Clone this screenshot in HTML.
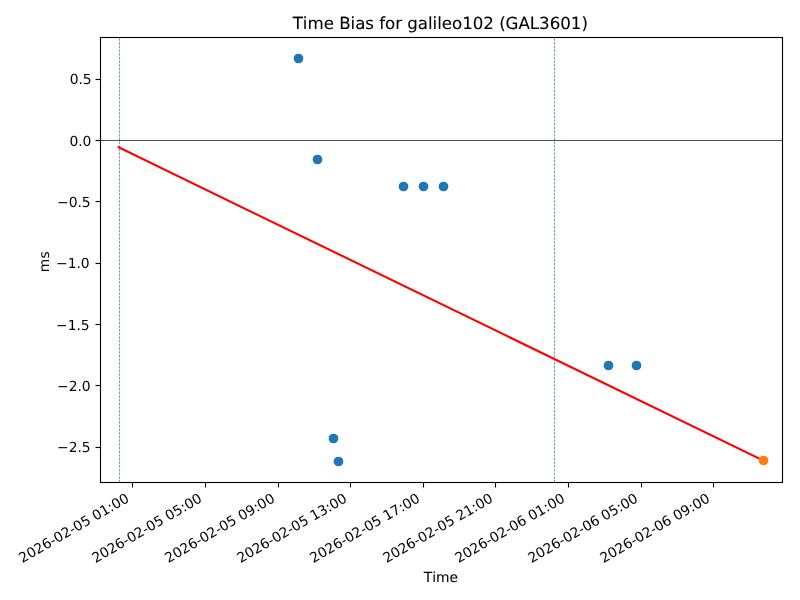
<!DOCTYPE html>
<html lang="en"><head><meta charset="utf-8"><title>Time Bias for galileo102 (GAL3601)</title>
<style>
html,body{margin:0;padding:0;background:#fff;width:800px;height:600px;overflow:hidden}
svg{display:block;position:absolute;left:0;top:0;will-change:transform}
text{font-family:"DejaVu Sans","Liberation Sans",sans-serif;fill:#000;font-kerning:none;text-rendering:geometricPrecision}
.t{font-size:13.889px}.h{font-size:16.667px;letter-spacing:-0.030px}
#xlabels text{letter-spacing:-0.020px}#ylabels text{letter-spacing:-0.020px}
</style></head><body>
<svg width="800" height="600" viewBox="0 0 800 600">
<rect width="800" height="600" fill="#ffffff"/>
<g id="data">
<g fill="#1f77b4" stroke="#1f77b4" stroke-width="1.389">
<circle cx="298.50" cy="58.50" r="4.167"/>
<circle cx="317.50" cy="159.50" r="4.167"/>
<circle cx="403.50" cy="186.50" r="4.167"/>
<circle cx="423.50" cy="186.50" r="4.167"/>
<circle cx="443.50" cy="186.50" r="4.167"/>
<circle cx="333.50" cy="438.50" r="4.167"/>
<circle cx="338.50" cy="461.50" r="4.167"/>
<circle cx="608.50" cy="365.50" r="4.167"/>
<circle cx="636.50" cy="365.50" r="4.167"/>
</g>
<line x1="119.5" y1="482.5" x2="119.5" y2="37.5" stroke="#1f77b4" stroke-width="0.694" stroke-dasharray="2.569 1.111"/>
<line x1="554.5" y1="482.5" x2="554.5" y2="37.5" stroke="#1f77b4" stroke-width="0.694" stroke-dasharray="2.569 1.111"/>
<line x1="100.5" y1="140.5" x2="782.5" y2="140.5" stroke="#000" stroke-width="0.694"/>
<line x1="118.60" y1="147.30" x2="763.50" y2="460.60" stroke="#ff0000" stroke-width="2.083" stroke-linecap="square"/>
<circle cx="763.50" cy="460.50" r="4.167" fill="#ff7f0e" stroke="#ff7f0e" stroke-width="1.389"/>
</g>
<g id="ticks" stroke="#000" stroke-width="1.111">
<line x1="132.5" y1="482.5" x2="132.5" y2="487.50"/>
<line x1="205.5" y1="482.5" x2="205.5" y2="487.50"/>
<line x1="278.5" y1="482.5" x2="278.5" y2="487.50"/>
<line x1="350.5" y1="482.5" x2="350.5" y2="487.50"/>
<line x1="423.5" y1="482.5" x2="423.5" y2="487.50"/>
<line x1="495.5" y1="482.5" x2="495.5" y2="487.50"/>
<line x1="568.5" y1="482.5" x2="568.5" y2="487.50"/>
<line x1="641.5" y1="482.5" x2="641.5" y2="487.50"/>
<line x1="713.5" y1="482.5" x2="713.5" y2="487.50"/>
<line x1="100.5" y1="79.5" x2="95.50" y2="79.5"/>
<line x1="100.5" y1="140.5" x2="95.50" y2="140.5"/>
<line x1="100.5" y1="201.5" x2="95.50" y2="201.5"/>
<line x1="100.5" y1="263.5" x2="95.50" y2="263.5"/>
<line x1="100.5" y1="324.5" x2="95.50" y2="324.5"/>
<line x1="100.5" y1="385.5" x2="95.50" y2="385.5"/>
<line x1="100.5" y1="447.5" x2="95.50" y2="447.5"/>
</g>
<rect x="100.5" y="37.5" width="682.0" height="445.0" fill="none" stroke="#000" stroke-width="1.111" stroke-linejoin="miter"/>
<g id="xlabels" class="t">
<text class="t" style="letter-spacing:-0.040px" transform="translate(22.34 563.23) rotate(-30)">2026-02-05 01:00</text>
<text class="t" style="letter-spacing:-0.060px" transform="translate(95.47 563.23) rotate(-30)">2026-02-05 05:00</text>
<text class="t" style="letter-spacing:-0.060px" transform="translate(168.36 563.23) rotate(-30)">2026-02-05 09:00</text>
<text class="t" style="letter-spacing:-0.060px" transform="translate(240.49 563.23) rotate(-30)">2026-02-05 13:00</text>
<text class="t" style="letter-spacing:-0.060px" transform="translate(313.37 563.23) rotate(-30)">2026-02-05 17:00</text>
<text class="t" style="letter-spacing:-0.060px" transform="translate(386.50 563.23) rotate(-30)">2026-02-05 21:00</text>
<text class="t" style="letter-spacing:-0.060px" transform="translate(458.38 563.23) rotate(-30)">2026-02-06 01:00</text>
<text class="t" style="letter-spacing:-0.060px" transform="translate(531.50 563.23) rotate(-30)">2026-02-06 05:00</text>
<text class="t" style="letter-spacing:-0.060px" transform="translate(603.38 563.23) rotate(-30)">2026-02-06 09:00</text>
</g>
<g id="ylabels" text-anchor="end">
<text class="t" x="91.70" y="83.69">0.5</text>
<text class="t" x="91.45" y="145.53">0.0</text>
<text class="t" x="90.70" y="206.62">−0.5</text>
<text class="t" x="89.70" y="267.70">−1.0</text>
<text class="t" x="89.70" y="329.53">−1.5</text>
<text class="t" x="90.70" y="390.62">−2.0</text>
<text class="t" x="90.70" y="451.70">−2.5</text>
</g>
<text class="t" text-anchor="middle" stroke="#000" stroke-width="0.07" x="440.94" y="581.59">Time</text>
<text class="t" text-anchor="middle" transform="translate(49.40 261.75) rotate(-90)">ms</text>
<text class="h" text-anchor="middle" stroke="#000" stroke-width="0.08" x="440.30" y="28.50">Time Bias for galileo102 (GAL3601)</text>
</svg></body></html>
